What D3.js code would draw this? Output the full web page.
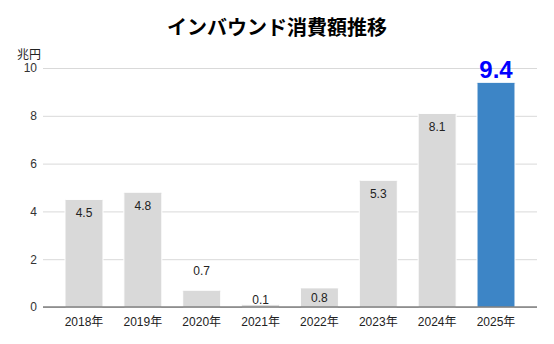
<!DOCTYPE html>
<html><head><meta charset="utf-8">
<script src="https://cdn.jsdelivr.net/npm/d3@7"></script>
<style>
body{margin:0;background:#fff;}
svg{display:block;font-family:"Liberation Sans","Noto Sans CJK JP",sans-serif;}
</style></head>
<body>
<svg id="chart" width="554" height="344"></svg>
<script>
const title = "インバウンド消費額推移";
const unitLabel = "兆円";
const categories = ["2018年","2019年","2020年","2021年","2022年","2023年","2024年","2025年"];
const values = [4.5, 4.8, 0.7, 0.1, 0.8, 5.3, 8.1, 9.4];
const yTicks = [0, 2, 4, 6, 8, 10];

(function () {
const svg = d3.select("#chart");
const mLeft = 43, mRight = 537, mTop = 68, mBottom = 307;

const x = d3.scaleBand().domain(categories).range([mLeft, mRight]).paddingInner(0.355).paddingOuter(0.374);
const y = d3.scaleLinear().domain([0, 10]).range([mBottom, mTop]);

// title
svg.append("text").attr("x", 277).attr("y", 35).attr("text-anchor", "middle")
  .attr("font-family", "'Noto Sans CJK JP',sans-serif").attr("font-weight", "bold")
  .attr("font-size", 20).attr("fill", "#000").text(title);

// unit
svg.append("text").attr("x", 17).attr("y", 59)
  .attr("font-family", "'Noto Sans CJK JP',sans-serif")
  .attr("font-size", 12).attr("fill", "#222").text(unitLabel);

// grid
const yAxis = d3.axisLeft(y).tickValues(yTicks).tickSize(-(mRight - mLeft)).tickPadding(6).tickFormat(d3.format("d"));
const ga = svg.append("g").attr("transform", `translate(${mLeft},0)`).call(yAxis);
ga.select(".domain").remove();
ga.selectAll(".tick line").attr("stroke", "#d9d9d9").attr("stroke-width", 1);
ga.selectAll(".tick text").attr("font-size", 12).attr("fill", "#333")
  .attr("font-family", "'Liberation Sans',Arial,sans-serif");

// bars
const last = categories.length - 1;
svg.append("g").selectAll("rect").data(values).join("rect")
  .attr("x", (d, i) => x(categories[i]))
  .attr("y", d => y(d))
  .attr("width", x.bandwidth())
  .attr("height", d => y(0) - y(d))
  .attr("rx", 1)
  .attr("fill", (d, i) => i === last ? "#3d85c6" : "#d9d9d9")
  .attr("stroke", "#fff").attr("stroke-width", 1);

// baseline
svg.append("line").attr("x1", mLeft).attr("x2", mRight).attr("y1", y(0)).attr("y2", y(0))
  .attr("stroke", "#444").attr("stroke-width", 1);

// x axis labels
const xAxis = d3.axisBottom(x).tickSize(0).tickPadding(10);
const gx = svg.append("g").attr("transform", `translate(0,${mBottom})`).call(xAxis);
gx.select(".domain").remove();
gx.selectAll(".tick text").attr("font-size", 12).attr("fill", "#222")
  .attr("font-family", "'Liberation Sans','Noto Sans CJK JP',sans-serif");

// value labels: offset of baseline relative to bar top
const labelDy = [18, 18, -15, -1, 14, 18, 18, -4];
svg.append("g").selectAll("text").data(values).join("text")
  .attr("x", (d, i) => x(categories[i]) + x.bandwidth() / 2)
  .attr("y", (d, i) => y(d) + labelDy[i])
  .attr("text-anchor", "middle")
  .attr("font-family", "'Liberation Sans',Arial,sans-serif")
  .attr("font-size", (d, i) => i === last ? 24 : 12)
  .attr("font-weight", (d, i) => i === last ? "bold" : "normal")
  .attr("fill", (d, i) => i === last ? "#0000ff" : "#222")
  .text(d => d3.format(".1f")(d));
})();
</script>
</body></html>
